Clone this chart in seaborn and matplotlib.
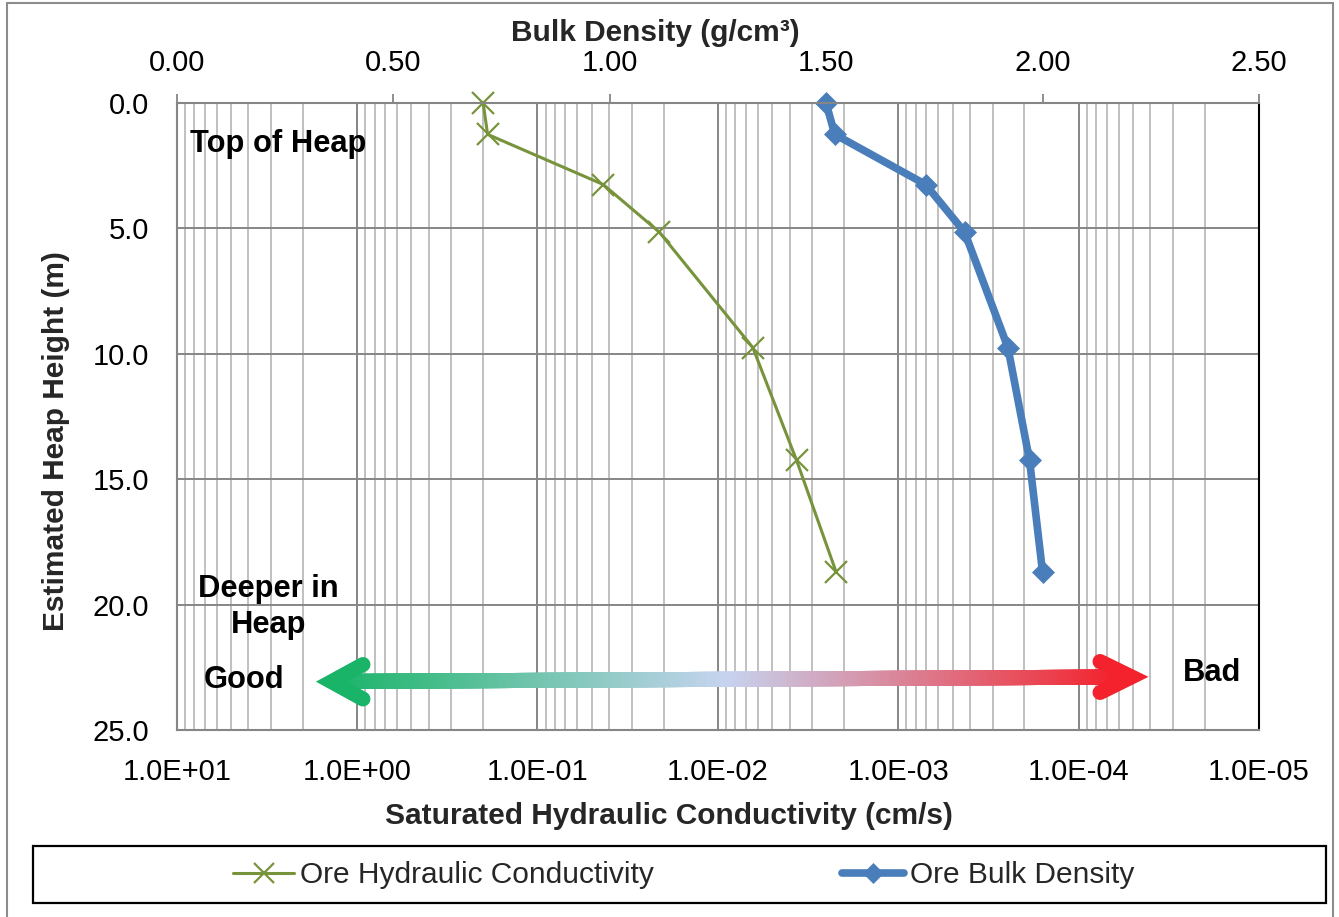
import numpy as np
import pandas as pd
import matplotlib
matplotlib.use("Agg")
import matplotlib.pyplot as plt
import seaborn as sns
from matplotlib.ticker import LogLocator, NullFormatter
from matplotlib.collections import LineCollection
from matplotlib.colors import LinearSegmentedColormap
from matplotlib.patches import Rectangle

# values
depth = [0.0, 1.25, 3.25, 5.15, 9.75, 14.25, 18.7]
hyd_cond = [0.20, 0.189, 0.0432, 0.0211, 0.0064, 0.00366, 0.00221]
bulk_density = [1.50, 1.52, 1.73, 1.82, 1.92, 1.97, 2.00]

k_ticks = [1e1, 1e0, 1e-1, 1e-2, 1e-3, 1e-4, 1e-5]
k_tick_labels = ["1.0E+01", "1.0E+00", "1.0E-01", "1.0E-02", "1.0E-03", "1.0E-04", "1.0E-05"]
bd_ticks = [0.0, 0.5, 1.0, 1.5, 2.0, 2.5]
bd_tick_labels = ["0.00", "0.50", "1.00", "1.50", "2.00", "2.50"]
depth_ticks = [0, 5, 10, 15, 20, 25]
depth_tick_labels = ["0.0", "5.0", "10.0", "15.0", "20.0", "25.0"]

df = pd.DataFrame({"depth": depth, "k": hyd_cond, "bd": bulk_density})

sns.set_theme(style="white")
plt.rcParams["font.family"] = ["Liberation Sans", "DejaVu Sans"]

W, H = 1339, 917
X0, X1, Y0, Y1 = 176.7, 1259.0, 103.0, 730.0


def ax_frac(px, py):
    # pixel position in the picture -> axes fraction
    return (px - X0) / (X1 - X0), 1 - (py - Y0) / (Y1 - Y0)


fig = plt.figure(figsize=(W / 100, H / 100), dpi=100)
ax = fig.add_axes([X0 / W, 1 - Y1 / H, (X1 - X0) / W, (Y1 - Y0) / H])
ax.set_xscale("log")

green = "#77933c"
blue = "#4a7ebb"
grid_dark = "#868686"
grid_light = "#c0c0c0"

sns.lineplot(data=df, x="k", y="depth", ax=ax, sort=False, estimator=None,
             color=green, linewidth=2.2, marker="x", markersize=16,
             markeredgewidth=1.6, markeredgecolor=green, clip_on=False,
             label="Ore Hydraulic Conductivity")

ax2 = ax.twiny()
sns.lineplot(data=df, x="bd", y="depth", ax=ax2, sort=False, estimator=None,
             color=blue, linewidth=5.5, marker="D", markersize=11,
             markeredgewidth=0.5, markeredgecolor=blue, clip_on=False,
             label="Ore Bulk Density")

# bottom log axis (reversed)
ax.set_xlim(10, 1e-5)
ax.set_xticks(k_ticks, labels=k_tick_labels)
ax.xaxis.set_minor_locator(LogLocator(base=10, subs=np.arange(2, 10)))
ax.xaxis.set_minor_formatter(NullFormatter())
ax.set_ylim(25, 0)
ax.set_yticks(depth_ticks, labels=depth_tick_labels)

ax.tick_params(axis="x", which="both", length=0, pad=20, labelsize=21, labelcolor="black")
ax.tick_params(axis="y", which="both", direction="in", length=3, color=grid_dark,
               pad=20, labelsize=21, labelcolor="black")

ax.grid(which="major", axis="x", color=grid_dark, linewidth=1.4)
ax.grid(which="minor", axis="x", color=grid_light, linewidth=1.4)
ax.grid(which="major", axis="y", color=grid_dark, linewidth=1.4)
ax.set_axisbelow(True)

# top linear axis
ax2.set_xlim(0, 2.5)
ax2.set_xticks(bd_ticks, labels=bd_tick_labels)
ax2.tick_params(axis="x", direction="out", length=6.5, width=1.3, color=grid_dark,
                pad=12, labelsize=21, labelcolor="black")
ax2.grid(False)

for s in ["left", "bottom"]:
    ax.spines[s].set_color(grid_dark)
    ax.spines[s].set_linewidth(1.5)
ax.spines["right"].set_color("black")
ax.spines["right"].set_linewidth(1.5)
ax.spines["top"].set_visible(False)
for s in ["left", "bottom", "right"]:
    ax2.spines[s].set_visible(False)
ax2.spines["top"].set_color(grid_dark)
ax2.spines["top"].set_linewidth(1.5)

# axis titles
ax.set_xlabel("Saturated Hydraulic Conductivity (cm/s)", fontsize=21.5, fontweight="bold")
ax.xaxis.set_label_coords(*ax_frac(669, 802))
ax2.set_xlabel("Bulk Density (g/cm\u00b3)", fontsize=21.5, fontweight="bold")
ax2.xaxis.set_label_coords(*ax_frac(655.5, 41))
ax.set_ylabel("Estimated Heap Height (m)", fontsize=21.5, fontweight="bold")
ax.yaxis.set_label_coords(*ax_frac(70, 441.5))

# annotations
txt = dict(transform=ax.transAxes, fontsize=22.2, fontweight="bold", color="black", va="baseline")
ax.text(*ax_frac(190, 151.7), "Top of Heap", ha="left", **txt)
ax.text(*ax_frac(268.5, 596.7), "Deeper in", ha="center", **txt)
ax.text(*ax_frac(268.5, 632.7), "Heap", ha="center", **txt)
ax.text(*ax_frac(204, 688.3), "Good", ha="left", **txt)
ax.text(*ax_frac(1183, 680.7), "Bad", ha="left", **txt)

# gradient double arrow Good <-> Bad
cmap = LinearSegmentedColormap.from_list("goodbad", ["#1ab468", "#c6d4f0", "#f3222c"])
lx, ly = ax_frac(339, 681.5)
rx, ry = ax_frac(1124, 677.0)
n = 300
t = np.linspace(0, 1, n + 1)
xs = lx + (rx - lx) * t
ys = ly + (ry - ly) * t
segs = np.stack([np.column_stack([xs[:-1], ys[:-1]]), np.column_stack([xs[1:], ys[1:]])], axis=1)
lc = LineCollection(segs, colors=cmap(t[:-1]), linewidths=10.8, transform=ax.transAxes,
                    capstyle="projecting", zorder=4)
ax.add_collection(lc)
for tip, a, b, col in [((331.5, 681.7), (363, 664.5), (363, 699), cmap(0.0)),
                       ((1131.5, 676.9), (1100, 661.5), (1100, 692.5), cmap(1.0))]:
    p = [ax_frac(*a), ax_frac(*tip), ax_frac(*b)]
    ax.plot([q[0] for q in p], [q[1] for q in p], transform=ax.transAxes, color=col,
            linewidth=10.8, solid_capstyle="round", solid_joinstyle="miter", zorder=5)

# legend at bottom in its own box
h1, l1 = ax.get_legend_handles_labels()
h2, l2 = ax2.get_legend_handles_labels()
for a in (ax, ax2):
    if a.get_legend() is not None:
        a.get_legend().remove()
fig.legend(h1 + h2, l1 + l2, loc="center", bbox_to_anchor=(683.5 / W, 1 - 875 / H),
           ncol=2, frameon=False, fontsize=21.5, handlelength=2.05, handletextpad=0.2,
           columnspacing=6.3, markerscale=0.9)
fig.add_artist(Rectangle((33 / W, 1 - 903 / H), (1326 - 33) / W, (903 - 846) / H,
                         transform=fig.transFigure, fill=False, edgecolor="black", linewidth=1.6))
fig.add_artist(Rectangle((7 / W, -0.05), (1333 - 7) / W, 1.05 - 3 / H,
                         transform=fig.transFigure, fill=False, edgecolor="#8c8c8c", linewidth=1.5))

fig.savefig("out.png", dpi=100)
